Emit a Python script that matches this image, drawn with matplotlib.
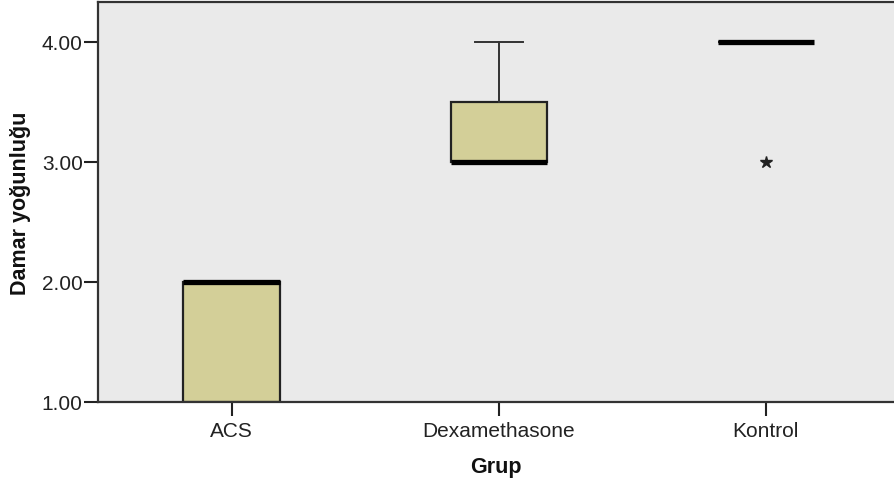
import numpy as np
import matplotlib
matplotlib.use('Agg')
import matplotlib.pyplot as plt

plt.rcParams['font.family'] = ['Liberation Sans', 'DejaVu Sans']

# Gruplar ve kutu grafiği istatistikleri
gruplar = ['ACS', 'Dexamethasone', 'Kontrol']
q1 = [1.0, 3.0, 4.0]
medyan = [2.0, 3.0, 4.0]
q3 = [2.0, 3.5, 4.0]
alt_bigit = [1.0, 3.0, 4.0]
ust_bigit = [2.0, 4.0, 4.0]
asiri_degerler = [[], [], [3.0]]

stats = []
for i, g in enumerate(gruplar):
    stats.append({'label': g, 'q1': q1[i], 'med': medyan[i], 'q3': q3[i],
                  'whislo': alt_bigit[i], 'whishi': ust_bigit[i],
                  'fliers': asiri_degerler[i]})

fig = plt.figure(figsize=(8.94, 4.81), dpi=100)
ax = fig.add_axes([98/894, 78/481, 1 - 98/894, 400/481])
ax.set_facecolor('#eaeaea')

ax.bxp(stats, positions=range(len(gruplar)), widths=0.36, capwidths=0.18,
       patch_artist=True,
       boxprops=dict(facecolor='#d3cf98', edgecolor='#222222', linewidth=1.6),
       medianprops=dict(color='black', linewidth=3.8, solid_capstyle='butt'),
       whiskerprops=dict(color='#333333', linewidth=1.4),
       capprops=dict(color='#333333', linewidth=1.4),
       flierprops=dict(marker='*', markersize=9, markerfacecolor='#222222',
                       markeredgecolor='#222222'))

ax.set_xlim(-0.5, 2.48)
ax.set_ylim(1.0, 4.333)
ax.set_yticks([1, 2, 3, 4])
ax.set_yticklabels(['%.2f' % v for v in [1, 2, 3, 4]])
ax.set_xticks(range(len(gruplar)))
ax.set_xticklabels(gruplar)
ax.tick_params(axis='both', labelsize=15, colors='#222222', length=10, width=1.5, pad=1)
ax.tick_params(axis='x', pad=3.5)
for s in ['left', 'bottom', 'top']:
    ax.spines[s].set_color('#333333')
    ax.spines[s].set_linewidth(1.6)
ax.spines['right'].set_visible(False)

ax.set_xlabel('Grup', fontsize=15.5, fontweight='bold', labelpad=12, color='#111111')
ax.set_ylabel('Damar yoğunluğu', fontsize=15.5, fontweight='bold', labelpad=8, color='#111111')

fig.savefig('out.png', dpi=100)
